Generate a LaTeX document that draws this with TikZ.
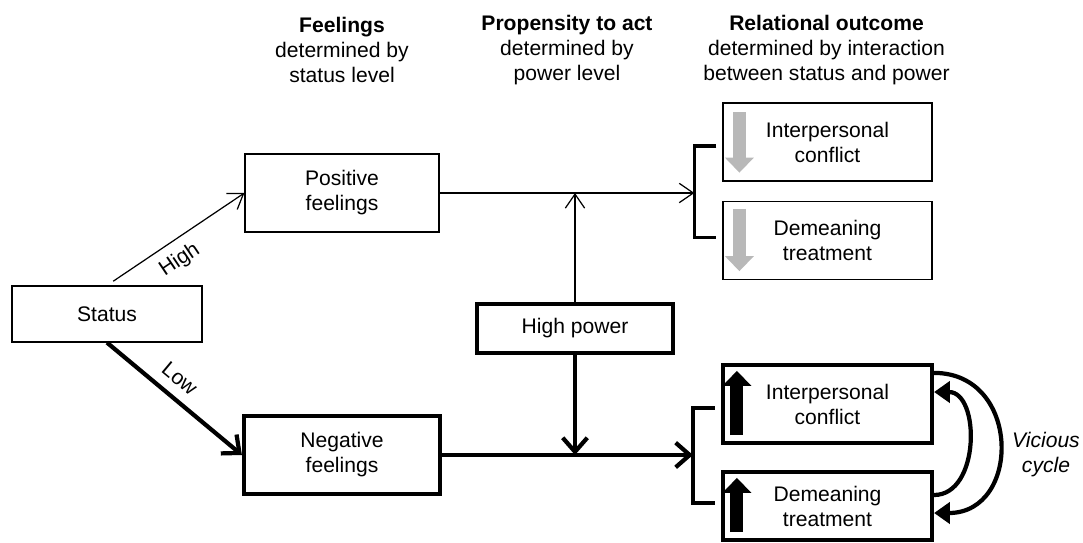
\documentclass[tikz,border=0pt]{standalone}
\usepackage{fontspec}
\setmainfont{Liberation Sans}
\usetikzlibrary{arrows.meta,calc}
\definecolor{lightarrow}{gray}{0.72}

\begin{document}
\begin{tikzpicture}[x=0.02cm,y=-0.02cm,
        font=\fontsize{12}{14.2}\selectfont,
        box/.style={shape=rectangle,draw=black,line width=0.7pt,align=center,inner sep=0pt,minimum width=3.88cm,minimum height=1.56cm},
        heavybox/.style={box,line width=2.4pt},
        thinline/.style={line width=0.7pt,-{Straight Barb[length=8pt,width=11pt]}},
        heavyline/.style={line width=2.4pt,-{Straight Barb[length=8pt,width=14pt]}},
        bracket/.style={line width=1.9pt},
        downicon/.style={draw=lightarrow,line width=0.26cm,-{Triangle[length=0.3cm,width=0.58cm,line width=0pt]}},
        upicon/.style={draw=black,line width=0.26cm,-{Triangle[length=0.3cm,width=0.58cm,line width=0pt]}},
        loopline/.style={line width=2.4pt,-{Triangle[length=9pt,width=12pt]}}]
    \useasboundingbox (0,0) rectangle (1083,542);

    \node[align=center] (feelhead) at (342,50) {\textbf{Feelings}\\determined by\\status level};
    \node[align=center] (acthead) at (567,50) {\textbf{Propensity to act}\\determined by\\power level};
    \node[align=center] (outhead) at (826.5,50) {\textbf{Relational outcome}\\determined by interaction\\between status and power};

    \node[box,minimum width=3.8cm,minimum height=1.12cm] (status) at (107,314) {Status};
    \node[box] (pos) at (342,193) {Positive\\feelings};
    \node[heavybox,minimum width=3.92cm] (neg) at (342,455) {Negative\\feelings};
    \node[heavybox,minimum width=3.92cm,minimum height=0.98cm] (power) at (575,328.5) {High power};

    \node[box,minimum width=4.18cm] (conf1) at (827.5,142) {Interpersonal\\conflict};
    \node[box,minimum width=4.18cm] (treat1) at (827.5,240.5) {Demeaning\\treatment};
    \node[heavybox,minimum width=4.18cm] (conf2) at (827.5,404) {Interpersonal\\conflict};
    \node[heavybox,minimum width=4.18cm,minimum height=1.36cm] (treat2) at (827.5,506) {Demeaning\\treatment};

    \node[align=center,font=\fontsize{12}{14.2}\selectfont\itshape] (vicious) at (1046,455) {Vicious\\cycle};

    \coordinate (join1) at ($(conf1.west)+(-28,4)$);
    \coordinate (join2) at ($(conf2.west)+(-28,4)$);

    % status to feelings
    \path [thinline] (status.north) edge [shorten <=0.15cm] node[sloped,below=2pt,pos=0.45] {High} (pos.west);
    \path [heavyline] (status.south) edge node[sloped,above=2pt,pos=0.45] {Low} (neg.west);

    % feelings and power to outcome
    \path [thinline] (pos.east) edge (pos.east -| join1);
    \path [thinline] (power.north) edge (power.north |- pos.east);
    \path [heavyline] (power.south) edge (power.south |- neg.east);
    \path [heavyline] (neg.east) edge (neg.east -| join2);

    \draw[bracket] ($(conf1.west)+(-6,4)$) -- (join1) |- ($(treat1.west)+(-6,-3)$);
    \draw[bracket] ($(conf2.west)+(-6,4)$) -- (join2) |- ($(treat2.west)+(-6,-3)$);

    \draw[downicon] ($(conf1.north west)+(17,10)$) -- ($(conf1.south west)+(17,-9)$);
    \draw[downicon] ($(treat1.north west)+(17,8)$) -- ($(treat1.south west)+(17,-9)$);
    \draw[upicon] ($(conf2.south west)+(16,-10)$) -- ($(conf2.north west)+(16,8)$);
    \draw[upicon] ($(treat2.south west)+(16,-10)$) -- ($(treat2.north west)+(16,8)$);

    % vicious cycle
    \path [loopline] ($(conf2.north east)+(0,10)$) edge [out=0,in=0,looseness=1.6] ($(treat2.east)+(0,7)$);
    \path [loopline] ($(treat2.east)+(0,-11)$) edge [out=0,in=0,looseness=1.15] ($(conf2.east)+(0,-12)$);
\end{tikzpicture}
\end{document}
